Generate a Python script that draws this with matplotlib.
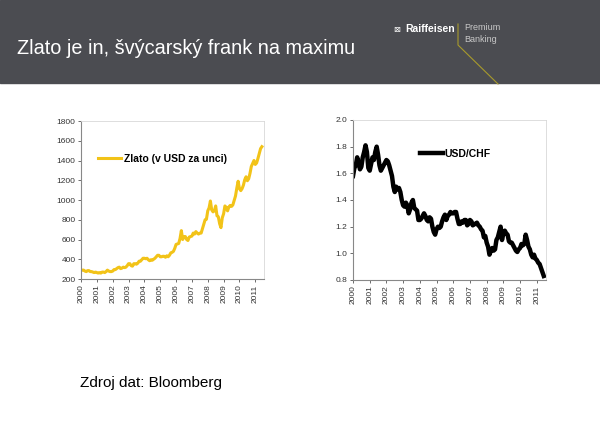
import numpy as np
import matplotlib.pyplot as plt
from matplotlib.patches import Rectangle
from matplotlib.lines import Line2D

plt.rcParams['font.family'] = ['Liberation Sans', 'DejaVu Sans']

# monthly values, Jan 2000 .. Jun 2011
gold = [285, 290, 290, 280, 275, 285, 285, 275, 275, 270, 265, 270,
        265, 260, 265, 260, 270, 270, 265, 275, 290, 280, 275, 275,
        280, 295, 295, 305, 315, 320, 305, 310, 320, 315, 320, 335,
        355, 355, 335, 330, 355, 355, 350, 360, 380, 380, 395, 410,
        410, 405, 410, 395, 385, 395, 390, 400, 410, 425, 440, 440,
        425, 425, 430, 430, 420, 435, 425, 440, 465, 470, 480, 510,
        550, 555, 560, 610, 690, 600, 630, 630, 600, 590, 625, 630,
        635, 665, 655, 680, 665, 655, 665, 665, 710, 755, 800, 805,
        890, 920, 990, 900, 880, 890, 940, 840, 830, 760, 720, 820,
        860, 940, 925, 890, 930, 945, 935, 950, 995, 1040, 1120, 1190,
        1115, 1095, 1115, 1150, 1205, 1235, 1195, 1215, 1270, 1340, 1370, 1400,
        1360, 1375, 1420, 1470, 1520, 1540]
usdchf = [1.58, 1.64, 1.66, 1.72, 1.68, 1.63, 1.65, 1.72, 1.76, 1.81, 1.76, 1.64,
          1.62, 1.67, 1.72, 1.70, 1.76, 1.80, 1.74, 1.66, 1.62, 1.64, 1.66, 1.68,
          1.70, 1.69, 1.66, 1.62, 1.58, 1.50, 1.46, 1.50, 1.48, 1.49, 1.46, 1.40,
          1.36, 1.35, 1.38, 1.36, 1.30, 1.33, 1.38, 1.40, 1.34, 1.33, 1.32, 1.25,
          1.25, 1.26, 1.28, 1.30, 1.28, 1.25, 1.24, 1.27, 1.26, 1.20, 1.16, 1.14,
          1.18, 1.20, 1.19, 1.20, 1.24, 1.27, 1.29, 1.25, 1.28, 1.29, 1.31, 1.30,
          1.30, 1.31, 1.31, 1.26, 1.22, 1.22, 1.24, 1.23, 1.25, 1.25, 1.21, 1.22,
          1.25, 1.24, 1.21, 1.22, 1.22, 1.23, 1.21, 1.20, 1.18, 1.17, 1.12, 1.13,
          1.08, 1.05, 0.99, 1.02, 1.04, 1.02, 1.03, 1.10, 1.12, 1.16, 1.20, 1.10,
          1.15, 1.17, 1.15, 1.14, 1.09, 1.08, 1.08, 1.06, 1.04, 1.02, 1.01, 1.03,
          1.04, 1.07, 1.06, 1.07, 1.14, 1.10, 1.05, 1.03, 0.99, 0.97, 0.99, 0.96,
          0.95, 0.93, 0.92, 0.89, 0.86, 0.83]
years = list(range(2000, 2012))

t = 2000 + np.arange(len(gold)) / 12.0

W, H = 600, 424
fig = plt.figure(figsize=(6, 4.24), dpi=100)

def box(x0, y0, x1, y1):
    # pixel box (top-left origin) -> figure fraction
    return [x0 / W, 1 - y1 / H, (x1 - x0) / W, (y1 - y0) / H]

# header band
fig.patches.append(Rectangle((0, 1 - 83 / H), 1, 83 / H, transform=fig.transFigure,
                             color='#4b4c51', zorder=0))
fig.text(17 / W, 1 - 48 / H, 'Zlato je in, švýcarský frank na maximu', color='white',
         fontsize=14.3, va='center', ha='left')
fig.text(400 / W, 1 - 29 / H, '⊠', color='white', fontsize=6,
         va='center', ha='right', family=['DejaVu Sans'])
fig.text(455 / W, 1 - 29 / H, 'Raiffeisen', color='white', fontsize=7.5,
         fontweight='bold', va='center', ha='right')
fig.text(464 / W, 1 - 28 / H, 'Premium', color='#c8c8c8', fontsize=6.5, va='center')
fig.text(464 / W, 1 - 39 / H, 'Banking', color='#c8c8c8', fontsize=6.5, va='center')
fig.lines.append(Line2D([458 / W, 458 / W, 498 / W], [1 - 24 / H, 1 - 45 / H, 1 - 84 / H],
                        transform=fig.transFigure, color='#a89a2c', lw=0.8))

fig.text(80 / W, 1 - 383 / H, 'Zdroj dat: Bloomberg', fontsize=11, va='center')


def style(ax, ylim, yticks, fmt):
    ax.set_xlim(2000, 2011.55)
    ax.set_ylim(*ylim)
    ax.set_xticks(years)
    ax.set_xticklabels([str(y) for y in years], rotation=90)
    ax.set_yticks(yticks)
    ax.set_yticklabels([fmt.format(v) for v in yticks])
    ax.tick_params(labelsize=6, length=2.5, width=0.6, colors='#555555',
                   labelcolor='#333333', pad=1.5)
    for s in ['left', 'bottom']:
        ax.spines[s].set_color('#888888')
        ax.spines[s].set_linewidth(0.8)
    for s in ['top', 'right']:
        ax.spines[s].set_color('#d8d8d8')
        ax.spines[s].set_linewidth(0.6)


ax1 = fig.add_axes(box(81, 121, 264, 279))
ax1.plot(t, gold, color='#f2c318', lw=2.2, label='Zlato (v USD za unci)')
style(ax1, (200, 1800), list(range(200, 1801, 200)), '{:d}')
ax1.legend(loc='upper left', bbox_to_anchor=(0.04, 0.85), frameon=False,
           prop={'size': 7.5, 'weight': 'bold'}, handlelength=2.2, handletextpad=0.3)

ax2 = fig.add_axes(box(353, 120, 546, 280))
ax2.plot(t, usdchf, color='black', lw=3.2, label='USD/CHF')
style(ax2, (0.8, 2.0), [0.8, 1.0, 1.2, 1.4, 1.6, 1.8, 2.0], '{:.1f}')
ax2.legend(loc='upper left', bbox_to_anchor=(0.3, 0.88), frameon=False,
           prop={'size': 7.5, 'weight': 'bold'}, handlelength=2.2, handletextpad=0.1)

fig.savefig('out.png', dpi=100)
